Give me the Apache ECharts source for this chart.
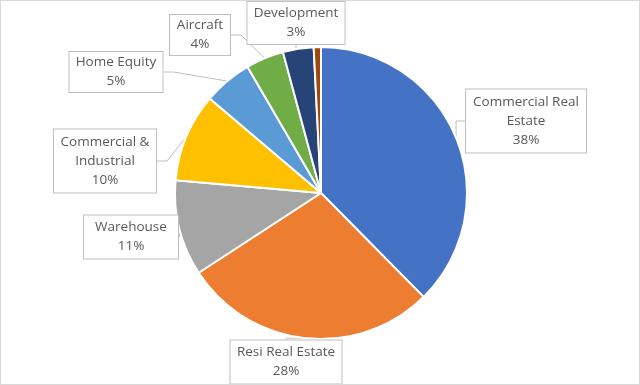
<!DOCTYPE html>
<html lang="en">
<head>
    <meta charset="UTF-8">
    <title>Loan Portfolio Mix</title>
    <script src="https://cdn.jsdelivr.net/npm/echarts@6/dist/echarts.min.js"></script>
    <style>
        html, body { margin: 0; padding: 0; background: #fff; }
        #chart {
            width: 640px;
            height: 385px;
            box-sizing: border-box;
            border: 1px solid #d9d9d9;
        }
    </style>
</head>
<body>
    <div id="chart"></div>
    <script>
        // categories and shares
        const categories = ['Commercial Real Estate', 'Resi Real Estate', 'Warehouse', 'Commercial & Industrial',
            'Home Equity', 'Aircraft', 'Development', 'Other'];
        const shares = [37.6, 28.2, 10.6, 9.8, 5.4, 4.2, 3.4, 0.8];
        const labelText = ['Commercial Real\nEstate', 'Resi Real Estate', 'Warehouse', 'Commercial &\nIndustrial',
            'Home Equity', 'Aircraft', 'Development', ''];

        const colors = ['#4472C4', '#ED7D31', '#A5A5A5', '#FFC000', '#5B9BD5', '#70AD47', '#264478', '#9E480E'];

        // callout boxes: center x, center y, width, height
        const boxes = [
            [525, 120, 122, 65],
            [285, 361, 113, 45],
            [130, 236, 96, 45],
            [104, 160, 104, 65],
            [115, 71, 95, 42],
            [199, 34, 62, 42],
            [295, 22, 99, 44],
            null
        ];

        const chart = echarts.init(document.getElementById('chart'));

        const data = categories.map((name, i) => ({
            name: name,
            value: shares[i],
            itemStyle: { color: colors[i] },
            label: boxes[i] ? {
                show: true,
                width: boxes[i][2] - 2,
                height: boxes[i][3] - 2
            } : { show: false },
            labelLine: { show: !!boxes[i] }
        }));

        chart.setOption({
            animation: false,
            series: [{
                type: 'pie',
                center: [320, 192],
                radius: 146,
                startAngle: 90,
                clockwise: true,
                avoidLabelOverlap: false,
                data: data,
                itemStyle: { borderColor: '#fff', borderWidth: 2 },
                label: {
                    position: 'outside',
                    formatter: p => labelText[p.dataIndex] + '\n' + Math.round(p.percent) + '%',
                    fontFamily: 'Open Sans',
                    fontSize: 13.5,
                    lineHeight: 19,
                    color: '#595959',
                    align: 'center',
                    verticalAlign: 'middle',
                    backgroundColor: '#fff',
                    borderColor: '#bfbfbf',
                    borderWidth: 1
                },
                labelLine: {
                    length: 10,
                    length2: 10,
                    lineStyle: { color: '#bfbfbf', width: 1 }
                },
                labelLayout: function (params) {
                    const b = boxes[params.dataIndex];
                    if (!b) return {};
                    return { x: b[0], y: b[1], align: 'center', verticalAlign: 'middle' };
                }
            }]
        });
    </script>
</body>
</html>
